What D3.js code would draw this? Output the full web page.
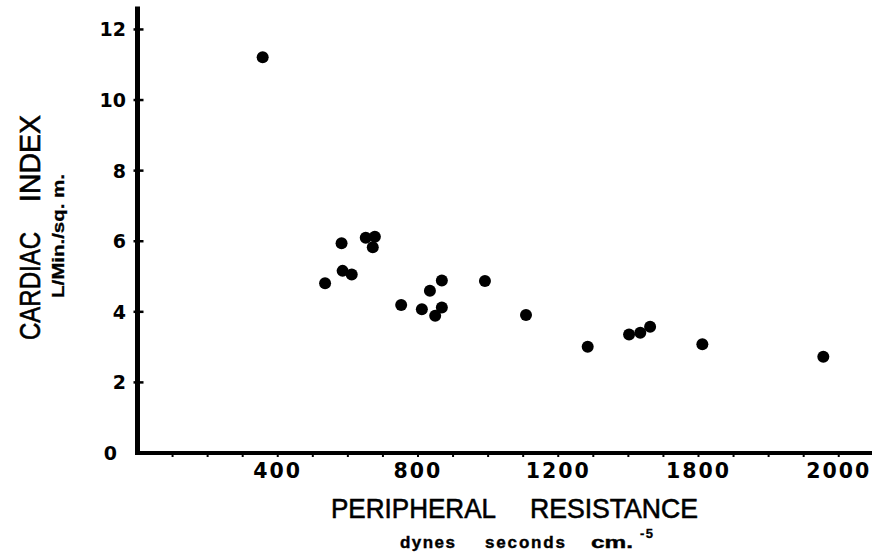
<!DOCTYPE html>
<html><head><meta charset="utf-8">
<script src="https://cdn.jsdelivr.net/npm/d3@7"></script>
<style>body{margin:0;background:#fff}svg{display:block}</style>
</head><body>
<svg id="c" width="872" height="555"></svg>
<script>
// Data
const resistance = [357, 582, 651, 677, 671, 585, 611, 535, 752, 811, 834, 868, 868, 849, 991, 1108, 1284, 1402, 1434, 1462, 1611, 1956];
const cardiacIndex = [11.21, 5.94, 6.10, 6.13, 5.83, 5.16, 5.06, 4.81, 4.19, 4.07, 4.60, 4.89, 4.12, 3.89, 4.87, 3.91, 3.01, 3.36, 3.41, 3.58, 3.08, 2.73];
const xTickValues = [400, 800, 1200, 1600, 2000];
const xTickLabels = ["400", "800", "1200", "1800", "2000"];
const xMinorTicks = d3.range(100, 2100, 100);
const yTickValues = [0, 2, 4, 6, 8, 10, 12];
const yTickLabels = ["0", "2", "4", "6", "8", "10", "12"];

const svg = d3.select("#c");
const x = d3.scaleLinear().domain([0, 2100]).range([137.5, 873.8]);
const y = d3.scaleLinear().domain([0, 12.65]).range([453, 6.5]);

// x minor ticks
svg.append("g").selectAll("line").data(xMinorTicks).join("line")
  .attr("x1", d => x(d)).attr("x2", d => x(d))
  .attr("y1", y(0)).attr("y2", y(0) + 4)
  .attr("stroke", "#000").attr("stroke-width", 2);

// axes lines
svg.append("line").attr("x1", x(0)).attr("x2", x(0)).attr("y1", y(12.65)).attr("y2", y(0) + 2)
  .attr("stroke", "#000").attr("stroke-width", 5);
svg.append("line").attr("x1", x(0) - 2.5).attr("x2", 872).attr("y1", y(0)).attr("y2", y(0))
  .attr("stroke", "#000").attr("stroke-width", 4);

// y ticks
svg.append("g").selectAll("line").data(yTickValues.filter(d => d > 0)).join("line")
  .attr("x1", x(0) - 4).attr("x2", x(0) + 6)
  .attr("y1", d => y(d)).attr("y2", d => y(d))
  .attr("stroke", "#000").attr("stroke-width", 2.5);

// y tick labels
svg.append("g").selectAll("text").data(yTickValues).join("text")
  .attr("x", d => d === 0 ? 117 : 126)
  .attr("y", d => y(d) + 7)
  .attr("text-anchor", "end")
  .attr("font-family", "DejaVu Sans").attr("font-weight", "bold").attr("font-size", 19)
  .text((d, i) => yTickLabels[i]);

// x tick labels
svg.append("g").selectAll("text").data(xTickValues).join("text")
  .attr("x", d => x(d))
  .attr("y", 478)
  .attr("text-anchor", "middle")
  .attr("font-family", "DejaVu Sans").attr("font-weight", "bold").attr("font-size", 20.5)
  .attr("letter-spacing", 2)
  .text((d, i) => xTickLabels[i]);

// points
svg.append("g").selectAll("circle").data(resistance).join("circle")
  .attr("cx", d => x(d)).attr("cy", (d, i) => y(cardiacIndex[i]))
  .attr("r", 6).attr("fill", "#000");

// titles
const tt = (txt, xx, yy, len, size, weight, adj, sw) => {
  const t = svg.append("text")
    .attr("x", xx).attr("y", yy).attr("text-anchor", "middle")
    .attr("font-family", "Liberation Sans").attr("font-weight", weight).attr("font-size", size)
    .attr("stroke", "#000").attr("stroke-width", sw).text(txt);
  if (len) t.attr("textLength", len).attr("lengthAdjust", adj);
  return t;
};
tt("PERIPHERAL", 413.5, 518, 165, 28, "normal", "spacingAndGlyphs", 0.6);
tt("RESISTANCE", 614, 518, 168, 28, "normal", "spacingAndGlyphs", 0.6);
tt("dynes", 427.5, 548, 55, 17, "bold", "spacing", 0.4);
tt("seconds", 525, 548, 80, 17, "bold", "spacing", 0.4);
tt("cm.", 612, 548, 42, 17, "bold", "spacingAndGlyphs", 0.4);
tt("-5", 646.5, 538, 13, 13, "bold", "spacing", 0.3);

// y title (rotated)
const yt = (txt, cx, cy, len, size, weight, sw) => svg.append("text")
  .attr("transform", `translate(${cx},${cy}) rotate(-90)`)
  .attr("text-anchor", "middle")
  .attr("font-family", "Liberation Sans").attr("font-weight", weight).attr("font-size", size)
  .attr("stroke", "#000").attr("stroke-width", sw)
  .attr("textLength", len).attr("lengthAdjust", "spacingAndGlyphs").text(txt);
yt("CARDIAC", 40, 286, 108, 29, "normal", 0.6);
yt("INDEX", 40, 158.5, 87, 29, "normal", 0.6);
yt("L/Min./sq. m.", 64, 236, 124, 16, "bold", 0.3);
</script>
</body></html>
